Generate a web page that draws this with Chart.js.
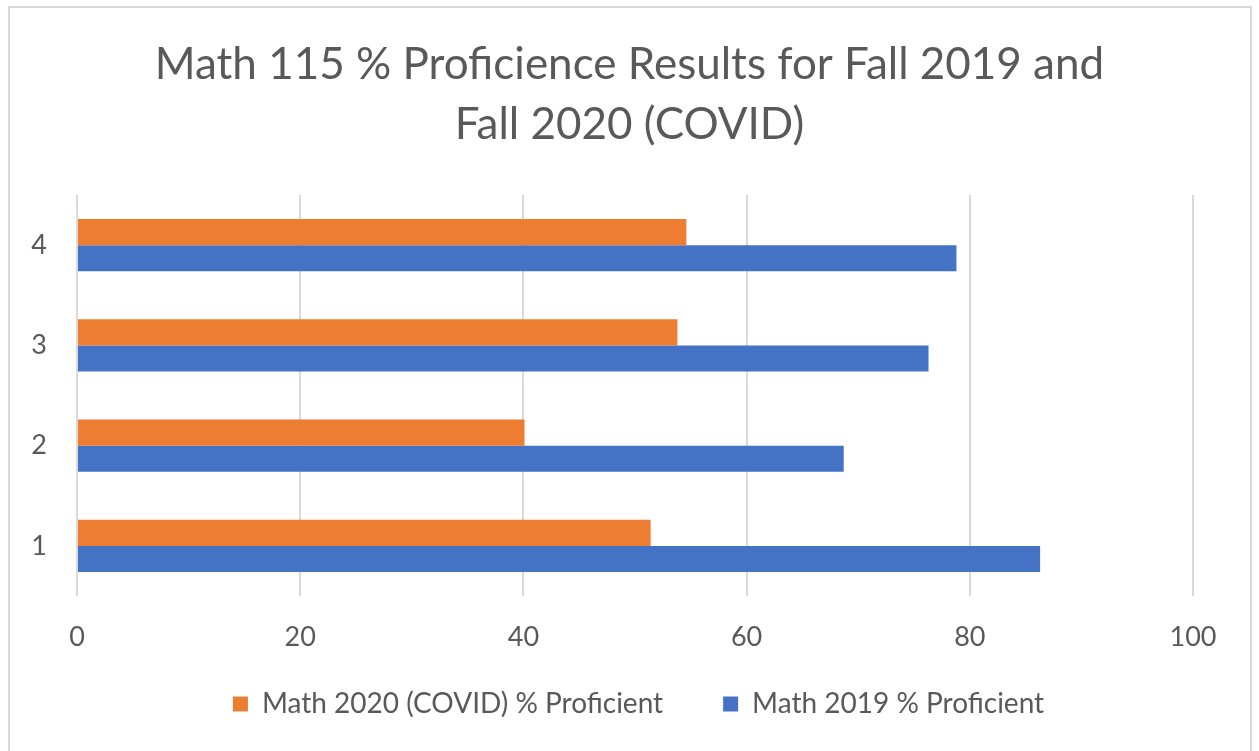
<!DOCTYPE html>
<html>
<head>
<meta charset="utf-8">
<script src="https://cdn.jsdelivr.net/npm/chart.js@4/dist/chart.umd.min.js"></script>
<style>
  html, body { margin: 0; padding: 0; background: #ffffff; overflow: hidden; }
  #wrap { position: relative; width: 1259px; height: 751px; }
  #frame { position: absolute; left: 8px; top: 6px; width: 1244px; height: 800px; border: 2px solid #d9d9d9; box-sizing: border-box; pointer-events: none; }
  canvas { position: absolute; left: 0; top: 0; }
</style>
</head>
<body>
<div id="wrap">
  <canvas id="c" width="1259" height="751"></canvas>
  <div id="frame"></div>
</div>
<script>
const categories = ['1', '2', '3', '4'];
const math2020 = [51.4, 40.1, 53.8, 54.6];
const math2019 = [86.3, 68.7, 76.3, 78.8];
const xTicks = [0, 20, 40, 60, 80, 100];
const seriesNames = ['Math 2020 (COVID) % Proficient', 'Math 2019 % Proficient'];
const titleLines = ['Math 115 % Proficience Results for Fall 2019 and', 'Fall 2020 (COVID)'];

const FONT = 'Lato, "Open Sans", sans-serif';
const TXT = '#595959';

// Legend keeps wide horizontal spacing between items but takes a compact height.
const LEGEND_H = 49.6;
const LEGEND_SHIFT = 48.4;
const LEGEND_XSHIFT = 9;
const legendTweak = {
  id: 'legendTweak',
  beforeLayout(chart) {
    const lg = chart.legend;
    if (lg && !lg._tweaked) {
      const fit = lg.fit;
      lg.fit = function () { fit.call(this); this.height = LEGEND_H; };
      lg._tweaked = true;
    }
  },
  afterLayout(chart) {
    const lg = chart.legend;
    if (lg) {
      lg.top -= LEGEND_SHIFT;
      lg.height = lg.bottom - lg.top;
      lg.left += LEGEND_XSHIFT;
      lg.right += LEGEND_XSHIFT;
    }
  }
};

new Chart(document.getElementById('c'), {
  type: 'bar',
  data: {
    labels: categories,
    datasets: [
      { label: seriesNames[0], data: math2020, backgroundColor: '#ED7D31', barPercentage: 1, categoryPercentage: 0.52 },
      { label: seriesNames[1], data: math2019, backgroundColor: '#4472C4', barPercentage: 1, categoryPercentage: 0.52 }
    ]
  },
  plugins: [legendTweak],
  options: {
    indexAxis: 'y',
    responsive: false,
    animation: false,
    devicePixelRatio: 1,
    layout: { padding: { left: 0, right: 0, top: 35, bottom: 23 } },
    plugins: {
      title: {
        display: true,
        text: titleLines,
        color: TXT,
        font: { family: FONT, size: 44, weight: 'normal', lineHeight: 1.364 },
        padding: { top: 0, bottom: 40 }
      },
      legend: {
        display: true,
        position: 'bottom',
        labels: {
          color: TXT,
          font: { family: FONT, size: 28 },
          boxWidth: 15,
          boxHeight: 15,
          padding: 60
        }
      },
      tooltip: { enabled: false }
    },
    scales: {
      x: {
        min: 0,
        max: 100,
        afterBuildTicks: (s) => { s.ticks = xTicks.map(v => ({ value: v })); },
        ticks: { color: TXT, font: { family: FONT, size: 27 }, padding: 25 },
        grid: { color: '#d9d9d9', lineWidth: 2, drawTicks: false },
        border: { display: false }
      },
      y: {
        reverse: true,
        afterFit: (s) => { s.width = 77; },
        ticks: { color: TXT, font: { family: FONT, size: 27 }, padding: 30 },
        grid: { display: false, drawTicks: false },
        border: { display: false }
      },
      yRight: {
        type: 'category',
        position: 'right',
        labels: categories,
        afterFit: (s) => { s.width = 66; },
        ticks: { display: false },
        grid: { display: false, drawTicks: false },
        border: { display: false }
      }
    }
  }
});
</script>
</body>
</html>
